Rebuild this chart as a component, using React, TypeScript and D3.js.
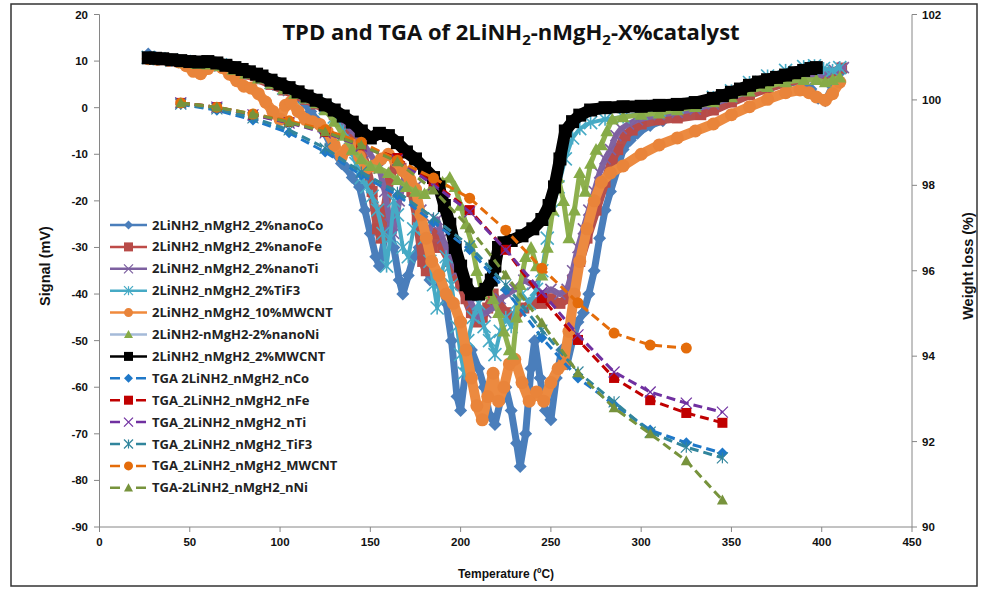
import React from 'react';
import * as d3 from 'd3';

type Pt = [number, number];

// ---------- TPD series (temperature °C, signal mV) ----------
const tpdCo: Pt[] = [[27,11.5],[31,10.8],[36,10.4],[42,10.1],[48,9.8],[54,9.4],[60,9.5],[66,9.3],[72,8.7],[78,8.0],[84,7.2],[90,6.2],[96,5.0],[102,3.8],[108,2.6],[113,1.2],[117,-0.8],[121,-3.0],[125,-5.5],[128,-8],[131,-10],[134,-12],[137,-13],[140,-15],[144,-17],[147,-22],[150,-27],[153,-32],[155,-34],[158,-28],[160,-24],[163,-30],[166,-37],[168,-40],[171,-36],[174,-32],[177,-30],[180,-33],[183,-37],[186,-35],[189,-38],[192,-42],[195,-50],[198,-62],[200,-65],[203,-56],[206,-52],[210,-56],[213,-60],[216,-66],[219,-68],[222,-63],[225,-60],[228,-65],[231,-72],[233,-77],[236,-70],[239,-56],[241,-50],[244,-58],[247,-65],[250,-67],[253,-58],[256,-52],[259,-55],[262,-50],[265,-46],[268,-44],[271,-40],[274,-35],[277,-28],[280,-22],[283,-18],[287,-13],[290,-9],[294,-7],[298,-5.5],[305,-3.8],[312,-2.8],[320,-1.8],[330,-0.8],[340,0.8],[350,2.0],[360,3.2],[370,4.2],[380,5.2],[388,5.6],[394,4.0],[398,2.0],[402,1.5],[406,4.5],[410,7.5]];
const tpdFe: Pt[] = [[27,10.6],[33,10.3],[40,10.0],[47,9.7],[54,9.3],[60,9.2],[67,9.0],[74,8.2],[81,7.2],[88,6.2],[95,5.0],[102,3.8],[108,2.8],[114,1.8],[120,0.8],[125,-0.3],[130,-1.5],[135,-4],[140,-6],[145,-9],[148,-13],[151,-18],[154,-26],[156,-28],[158,-22],[161,-15],[164,-12],[167,-13],[170,-15],[173,-18],[176,-24],[179,-33],[181,-35],[184,-30],[187,-27],[190,-30],[194,-33],[197,-36],[200,-38],[203,-41],[206,-44],[209,-46],[212,-45],[215,-43],[218,-40],[221,-42],[225,-44],[230,-45],[235,-43],[240,-42],[245,-42],[250,-41],[255,-42],[259,-41],[262,-37],[266,-33],[270,-28],[275,-22],[280,-16],[284,-11],[287,-9],[291,-6],[295,-4.8],[300,-3.5],[310,-2.6],[320,-2.2],[333,-1.5],[340,-0.5],[350,1.2],[360,2.8],[370,4.2],[380,5.4],[390,6.3],[397,6.6],[402,6.5],[406,7.5],[411,8.5]];
const tpdTi: Pt[] = [[27,10.6],[33,10.4],[40,10.1],[47,9.8],[54,9.5],[60,9.4],[67,9.1],[74,8.3],[81,7.4],[88,6.4],[95,5.2],[102,4.0],[108,3.0],[114,2.0],[120,1.2],[125,0.2],[130,-1],[135,-3],[140,-5],[145,-7],[150,-10],[155,-13],[158,-18],[161,-25],[163,-27],[166,-20],[169,-15],[172,-14],[175,-17],[178,-22],[181,-28],[184,-25],[187,-24],[190,-28],[194,-32],[198,-35],[202,-38],[206,-42],[210,-45],[214,-44],[218,-43],[222,-41],[226,-40],[230,-39],[235,-37],[240,-38],[245,-40],[250,-39],[255,-40],[259,-39],[262,-35],[265,-30],[268,-26],[271,-22],[274,-18],[277,-14],[280,-11],[283,-9],[286,-6],[289,-4.5],[293,-3.5],[298,-2.6],[310,-1.5],[320,-1.0],[330,-0.3],[340,0.8],[350,2.2],[360,3.6],[370,4.8],[380,5.8],[390,6.6],[397,7.0],[402,7.2],[407,8.0],[412,8.6]];
const tpdTiF3: Pt[] = [[27,10.8],[33,10.5],[40,10.2],[47,9.9],[54,9.6],[60,9.5],[67,9.2],[74,8.5],[81,7.5],[88,6.5],[95,5.4],[102,4.2],[108,3.2],[114,2.2],[120,1.3],[125,0],[130,-2],[135,-5],[139,-9],[142,-12],[145,-15],[148,-17],[151,-19],[154,-22],[157,-27],[159,-34],[161,-28],[163,-20],[165,-23],[168,-30],[171,-32],[174,-26],[177,-24],[180,-28],[183,-33],[185,-38],[187,-43],[189,-36],[192,-32],[195,-38],[198,-47],[200,-53],[202,-57],[204,-50],[207,-45],[210,-42],[213,-47],[216,-50],[219,-53],[222,-48],[225,-45],[228,-47],[231,-42],[234,-40],[238,-42],[242,-39],[245,-35],[248,-28],[251,-22],[254,-17],[258,-11],[262,-6.5],[266,-4.5],[272,-3.2],[280,-2.5],[290,-2.0],[300,-1.2],[310,-0.5],[320,0.2],[330,1.0],[340,2.2],[350,3.6],[360,5.4],[370,6.8],[380,8.0],[390,8.8],[396,9.0],[401,8.4],[406,8.0],[410,8.6]];
const tpdMWCNT10: Pt[] = [[27,10.5],[32,10.4],[38,10.2],[44,9.8],[48,9.0],[52,7.8],[56,7.3],[60,8.4],[64,9.2],[68,8.6],[72,7.2],[76,5.8],[80,4.6],[84,4.2],[88,3.0],[92,1.2],[96,-0.8],[100,-2.5],[103,0.5],[106,1.2],[110,-0.8],[114,-2.5],[118,-3.0],[122,-3.6],[126,-5.0],[130,-8.0],[134,-10.5],[137,-9.0],[140,-8.0],[144,-10.5],[148,-13.0],[152,-12.5],[156,-11.0],[160,-10.0],[164,-11.5],[168,-13.5],[172,-15.5],[175,-17.5],[178,-23],[181,-28],[184,-33],[188,-36],[192,-40],[196,-42],[200,-46],[203,-52],[206,-58],[209,-64],[212,-67],[215,-62],[218,-57],[221,-63],[224,-60],[227,-55],[230,-54],[234,-59],[238,-63],[242,-61],[246,-63],[250,-59],[254,-56],[257,-55],[260,-48],[263,-40],[266,-33],[270,-26],[274,-20],[278,-16],[283,-14],[290,-12.5],[300,-10],[310,-8],[320,-6.5],[330,-5],[340,-3.5],[350,-1.5],[360,0.2],[370,1.8],[380,3.2],[388,3.8],[393,3.2],[397,2.3],[402,1.6],[406,3],[410,5.5]];
const tpdNi: Pt[] = [[27,10.6],[33,10.4],[40,10.1],[47,9.8],[54,9.4],[60,9.3],[67,9.0],[74,8.2],[81,7.3],[88,6.3],[95,5.2],[102,4.0],[108,3.0],[114,2.0],[120,1.0],[125,-0.5],[130,-3],[135,-6],[140,-9],[145,-11],[150,-12.5],[155,-13],[160,-14],[165,-15.5],[170,-17],[175,-18],[180,-18.5],[185,-17],[190,-16],[194,-15],[197,-17],[200,-21],[203,-25],[206,-29],[209,-35],[212,-40],[215,-38],[218,-41],[221,-44],[224,-48],[227,-52],[229,-53],[231,-45],[233,-38],[236,-32],[239,-30],[242,-34],[245,-36],[248,-30],[251,-22],[254,-15],[257,-20],[260,-28],[263,-22],[266,-14],[269,-18],[272,-12],[275,-9],[278,-8],[281,-5],[284,-2.5],[290,-2.0],[300,-1.5],[310,-1.2],[320,-0.5],[330,0.2],[340,1.2],[350,2.3],[360,3.5],[370,4.5],[380,5.5],[390,6.0],[397,6.0],[402,5.5],[406,6.0],[410,6.5]];
const tpdMWCNT2: Pt[] = [[27,10.7],[31,10.6],[35,10.5],[40,10.3],[45,10.1],[50,9.9],[55,9.8],[60,9.9],[65,9.6],[70,9.1],[75,8.6],[79,8.2],[83,7.7],[87,7.2],[90,6.8],[95,5.9],[100,5.1],[105,4.3],[110,3.4],[115,2.5],[120,1.6],[125,0.6],[130,-0.5],[135,-1.8],[140,-3.1],[145,-5.0],[150,-6.5],[155,-5.5],[160,-6.0],[165,-7.5],[170,-9.5],[175,-11],[180,-13],[185,-15],[188,-17],[191,-21],[194,-25],[197,-30],[200,-34],[203,-38],[206,-40],[210,-40],[214,-39],[217,-37],[219,-34],[221,-30],[224,-29],[228,-28.5],[234,-27.5],[240,-26],[245,-24],[249,-21],[252,-17],[255,-11],[258,-5],[262,-3],[266,-1.6],[272,-0.5],[280,0],[290,0.2],[300,0.3],[310,0.5],[320,0.7],[330,1.1],[340,2.0],[345,2.6],[350,3.3],[355,4.0],[360,4.8],[365,5.5],[370,6.0],[375,6.5],[380,7.0],[385,7.5],[390,8.0],[394,8.4],[397,8.6]];

// ---------- TGA series (weight %, right axis) ----------
const tgaTemps = [45, 65, 85, 105, 125, 145, 165, 185, 205, 225, 245, 265, 285, 305, 325, 345];
const tgaCo = [99.90, 99.76, 99.53, 99.23, 98.78, 98.24, 97.77, 97.14, 96.49, 95.55, 94.43, 93.49, 92.86, 92.27, 91.97, 91.73];
const tgaFe = [99.93, 99.83, 99.65, 99.48, 99.25, 98.94, 98.64, 98.05, 97.42, 96.49, 95.36, 94.38, 93.49, 92.97, 92.67, 92.44];
const tgaTi = [99.93, 99.83, 99.65, 99.46, 99.23, 98.92, 98.59, 98.01, 97.38, 96.49, 95.50, 94.50, 93.63, 93.16, 92.90, 92.69];
const tgaTiF3 = [99.90, 99.79, 99.58, 99.30, 98.87, 98.31, 97.84, 97.24, 96.58, 95.67, 94.61, 93.63, 92.93, 92.22, 91.87, 91.62];
const tgaMWCNT = [99.93, 99.83, 99.67, 99.51, 99.30, 99.01, 98.59, 98.17, 97.70, 96.95, 96.06, 95.25, 94.54, 94.26, 94.19];
const tgaNi = [99.93, 99.83, 99.67, 99.48, 99.25, 98.94, 98.55, 97.89, 97.00, 95.90, 94.78, 93.61, 92.79, 92.18, 91.55, 90.63];

// ---------- axes ----------
const xTicks = [0, 50, 100, 150, 200, 250, 300, 350, 400, 450];
const yLeftTicks = [20, 10, 0, -10, -20, -30, -40, -50, -60, -70, -80, -90];
const yRightTicks = [102, 100, 98, 96, 94, 92, 90];

type Shape = 'diamond' | 'square' | 'x' | 'star' | 'circle' | 'triangle';
interface TpdSeries { name: string; data: Pt[]; line: string; legendLine: string; fill: string; shape: Shape; size: number; width: number; }
interface TgaSeries { name: string; values: number[]; color: string; shape: Shape; size: number; }

const tpdSeries: TpdSeries[] = [
  { name: '2LiNH2_nMgH2_2%nanoCo', data: tpdCo, line: '#4A7EBB', legendLine: '#4A7EBB', fill: '#4A7EBB', shape: 'diamond', size: 13, width: 7 },
  { name: '2LiNH2_nMgH2_2%nanoFe', data: tpdFe, line: '#B5504D', legendLine: '#BE4B48', fill: '#B84B48', shape: 'square', size: 11, width: 9 },
  { name: '2LiNH2_nMgH2_2%nanoTi', data: tpdTi, line: '#8064A2', legendLine: '#7D60A0', fill: '#7D60A0', shape: 'x', size: 11, width: 6 },
  { name: '2LiNH2_nMgH2_2%TiF3', data: tpdTiF3, line: '#46AAC5', legendLine: '#46AAC5', fill: '#46AAC5', shape: 'star', size: 13, width: 4 },
  { name: '2LiNH2_nMgH2_10%MWCNT', data: tpdMWCNT10, line: '#EC8A40', legendLine: '#F08A3C', fill: '#E9843A', shape: 'circle', size: 13, width: 10 },
  { name: '2LiNH2-nMgH2-2%nanoNi', data: tpdNi, line: '#8EB04E', legendLine: '#A5BAD8', fill: '#86AB47', shape: 'triangle', size: 13, width: 5 },
  { name: '2LiNH2_nMgH2_2%MWCNT', data: tpdMWCNT2, line: '#000000', legendLine: '#000000', fill: '#000000', shape: 'square', size: 13, width: 12 },
];

const tgaSeries: TgaSeries[] = [
  { name: 'TGA 2LiNH2_nMgH2_nCo', values: tgaCo, color: '#1F78C8', shape: 'diamond', size: 11 },
  { name: 'TGA_2LiNH2_nMgH2_nFe', values: tgaFe, color: '#C00000', shape: 'square', size: 10 },
  { name: 'TGA_2LiNH2_nMgH2_nTi', values: tgaTi, color: '#7030A0', shape: 'x', size: 11 },
  { name: 'TGA_2LiNH2_nMgH2_TiF3', values: tgaTiF3, color: '#31859C', shape: 'star', size: 11 },
  { name: 'TGA_2LiNH2_nMgH2_MWCNT', values: tgaMWCNT, color: '#E46C0A', shape: 'circle', size: 11 },
  { name: 'TGA-2LiNH2_nMgH2_nNi', values: tgaNi, color: '#77933C', shape: 'triangle', size: 11 },
];

const x = d3.scaleLinear().domain([0, 450]).range([99.5, 912]);
const yL = d3.scaleLinear().domain([-90, 20]).range([527, 14.5]);
const yR = d3.scaleLinear().domain([90, 102]).range([527, 14.5]);

function Marker({ shape, cx, cy, size, fill, sw }: { shape: Shape; cx: number; cy: number; size: number; fill: string; sw?: number }) {
  const h = size / 2;
  const w = sw ?? 1.5;
  switch (shape) {
    case 'diamond':
      return <polygon points={`${cx},${cy - h} ${cx + h},${cy} ${cx},${cy + h} ${cx - h},${cy}`} fill={fill} />;
    case 'square':
      return <rect x={cx - h} y={cy - h} width={size} height={size} fill={fill} />;
    case 'circle':
      return <circle cx={cx} cy={cy} r={h} fill={fill} />;
    case 'triangle':
      return <polygon points={`${cx},${cy - h} ${cx + h},${cy + h * 0.8} ${cx - h},${cy + h * 0.8}`} fill={fill} />;
    case 'x':
      return (
        <g stroke={fill} strokeWidth={w}>
          <line x1={cx - h} y1={cy - h} x2={cx + h} y2={cy + h} />
          <line x1={cx - h} y1={cy + h} x2={cx + h} y2={cy - h} />
        </g>
      );
    case 'star':
    default:
      return (
        <g stroke={fill} strokeWidth={w}>
          <line x1={cx - h} y1={cy - h} x2={cx + h} y2={cy + h} />
          <line x1={cx - h} y1={cy + h} x2={cx + h} y2={cy - h} />
          <line x1={cx} y1={cy - h} x2={cx} y2={cy + h} />
        </g>
      );
  }
}

const axisFont = "'Liberation Sans', Arial, sans-serif";
const labelFont = "'Open Sans', 'Liberation Sans', sans-serif";

export default function App() {
  const tpdLine = d3.line<Pt>().x(d => x(d[0])).y(d => yL(d[1]));
  const tgaLine = d3.line<[number, number]>().x(d => x(d[0])).y(d => yR(d[1]));
  const legendY0 = 225;
  const legendDy = 21.9;
  const allLegend = [
    ...tpdSeries.map(s => ({ name: s.name, color: s.legendLine, fill: s.fill, shape: s.shape, dashed: false })),
    ...tgaSeries.map(s => ({ name: s.name, color: s.color, fill: s.color, shape: s.shape, dashed: true })),
  ];
  return (
    <svg width={985} height={599} style={{ position: 'absolute', left: 0, top: 0, background: '#fff' }}>
      <rect x={0} y={0} width={985} height={599} fill="#fff" />
      <rect x={11} y={4} width={966} height={582} fill="none" stroke="#333" strokeWidth={1.5} />

      {/* title */}
      <text x={511} y={40} textAnchor="middle" fontFamily={labelFont} fontWeight="bold" fontSize={22} fill="#111">
        TPD and TGA of 2LiNH<tspan dy={5} fontSize={15}>2</tspan><tspan dy={-5}>-nMgH</tspan><tspan dy={5} fontSize={15}>2</tspan><tspan dy={-5}>-X%catalyst</tspan>
      </text>

      {/* axes */}
      <g stroke="#868686" strokeWidth={1}>
        <line x1={99.5} y1={14.5} x2={99.5} y2={527} />
        <line x1={912} y1={14.5} x2={912} y2={527} />
        <line x1={99.5} y1={527} x2={912} y2={527} />
        {yLeftTicks.map(t => <line key={'lt' + t} x1={94} x2={99.5} y1={yL(t)} y2={yL(t)} />)}
        {yRightTicks.map(t => <line key={'rt' + t} x1={912} x2={917} y1={yR(t)} y2={yR(t)} />)}
        {xTicks.map(t => <line key={'xt' + t} x1={x(t)} x2={x(t)} y1={527} y2={532} />)}
      </g>
      <g fontFamily={axisFont} fontWeight="bold" fontSize={11.5} fill="#111">
        {yLeftTicks.map(t => <text key={'ll' + t} x={88} y={yL(t) + 4} textAnchor="end">{t}</text>)}
        {yRightTicks.map(t => <text key={'rl' + t} x={922} y={yR(t) + 4} textAnchor="start">{t}</text>)}
        {xTicks.map(t => <text key={'xl' + t} x={x(t)} y={546} textAnchor="middle">{t}</text>)}
      </g>
      <text transform="translate(50,266) rotate(-90)" textAnchor="middle" fontFamily={axisFont} fontWeight="bold" fontSize={14.5} fill="#111">Signal (mV)</text>
      <text transform="translate(973,266) rotate(-90)" textAnchor="middle" fontFamily={axisFont} fontWeight="bold" fontSize={14.5} fill="#111">Weight loss (%)</text>
      <text x={506} y={578} textAnchor="middle" fontFamily={axisFont} fontWeight="bold" fontSize={12} fill="#111">Temperature (ºC)</text>

      {/* TPD series */}
      {tpdSeries.map(s => (
        <g key={s.name}>
          <path d={tpdLine(s.data) || ''} fill="none" stroke={s.line} strokeWidth={s.width} strokeLinejoin="round" strokeLinecap="round" />
          {s.data.map((d, i) => (
            <Marker key={i} shape={s.shape} cx={x(d[0])} cy={yL(d[1])} size={s.size} fill={s.fill} sw={1.6} />
          ))}
        </g>
      ))}

      {/* TGA series */}
      {tgaSeries.map(s => {
        const pts: [number, number][] = s.values.map((v, i) => [tgaTemps[i], v]);
        return (
          <g key={s.name}>
            <path d={tgaLine(pts) || ''} fill="none" stroke={s.color} strokeWidth={3} strokeDasharray="9,5" />
            {pts.map((d, i) => (
              <Marker key={i} shape={s.shape} cx={x(d[0])} cy={yR(d[1])} size={s.size} fill={s.color} sw={1.2} />
            ))}
          </g>
        );
      })}

      {/* legend */}
      {allLegend.map((l, i) => {
        const cy = legendY0 + i * legendDy;
        return (
          <g key={l.name}>
            <line x1={110} x2={147} y1={cy} y2={cy} stroke={l.color} strokeWidth={2.5} strokeDasharray={l.dashed ? '10,16' : undefined} />
            <Marker shape={l.shape} cx={128.5} cy={cy} size={9} fill={l.fill} sw={1.2} />
            <text x={152} y={cy + 4.5} fontFamily={labelFont} fontWeight="bold" fontSize={13} fill="#222">{l.name}</text>
          </g>
        );
      })}
    </svg>
  );
}
